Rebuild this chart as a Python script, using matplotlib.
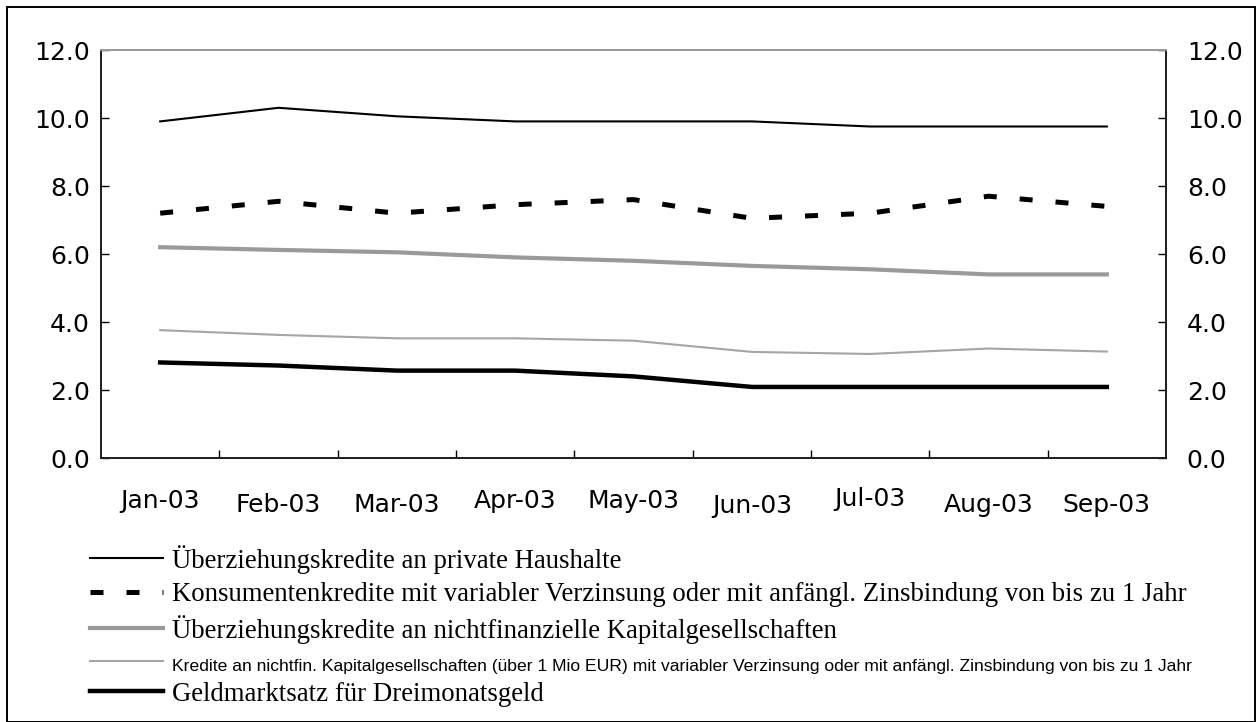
import matplotlib
matplotlib.use("Agg")
import matplotlib.pyplot as plt
import matplotlib.transforms as mtransforms
from matplotlib.patches import Rectangle
import numpy as np

# Data
months = ['Jan-03', 'Feb-03', 'Mar-03', 'Apr-03', 'May-03', 'Jun-03', 'Jul-03', 'Aug-03', 'Sep-03']
ueberziehung_hh = [9.9, 10.3, 10.05, 9.9, 9.9, 9.9, 9.75, 9.75, 9.75]
konsumentenkredite = [7.2, 7.55, 7.2, 7.45, 7.6, 7.05, 7.2, 7.7, 7.4]
ueberziehung_kg = [6.2, 6.12, 6.05, 5.9, 5.8, 5.65, 5.55, 5.4, 5.4]
kredite_kg_1mio = [3.76, 3.62, 3.52, 3.52, 3.45, 3.12, 3.06, 3.22, 3.13]
geldmarktsatz = [2.81, 2.72, 2.57, 2.57, 2.4, 2.09, 2.09, 2.09, 2.09]

labels = [
    'Überziehungskredite an private Haushalte',
    'Konsumentenkredite mit variabler Verzinsung oder mit anfängl. Zinsbindung von bis zu 1 Jahr',
    'Überziehungskredite an nichtfinanzielle Kapitalgesellschaften',
    'Kredite an nichtfin. Kapitalgesellschaften (über 1 Mio EUR) mit variabler Verzinsung oder mit anfängl. Zinsbindung von bis zu 1 Jahr',
    'Geldmarktsatz für Dreimonatsgeld',
]

W, H = 1260, 722
fig = plt.figure(figsize=(12.6, 7.22), dpi=100)
ax = fig.add_axes([101 / W, 1 - 458 / H, (1166 - 101) / W, (458 - 50) / H])

x = np.arange(len(months))
gray = '#9a9a9a'

ax.plot(x, ueberziehung_hh, color='black', lw=1.5, label=labels[0])
ax.plot(x, konsumentenkredite, color='black', lw=3.6, dashes=(2.6, 4.6),
        dash_capstyle='butt', label=labels[1])
ax.plot(x, ueberziehung_kg, color=gray, lw=3.0, label=labels[2])
ax.plot(x, kredite_kg_1mio, color='#a5a5a5', lw=1.5, label=labels[3])
ax.plot(x, geldmarktsatz, color='black', lw=3.2, label=labels[4])

ax.set_xlim(-0.5, len(months) - 0.5)
ax.set_ylim(0, 12)
yt = np.arange(0, 12.1, 2)
ax.set_yticks(yt)
ax.set_yticklabels([f'{v:.1f}' for v in yt])
ax.tick_params(axis='y', direction='in', length=6, width=1, labelsize=18, pad=8)

ax.set_xticks(x)
ax.set_xticklabels(months)
ax.set_xticks(np.arange(0.5, len(months) - 1, 1), minor=True)
ax.tick_params(axis='x', which='major', length=0, labelsize=18, pad=22)
ax.tick_params(axis='x', which='minor', direction='in', length=6, width=1)

# slight stagger of the month labels as in the original
offsets = [0, 4, 4, 0, 0, 5, -2, 4, 4]
for lab, dy in zip(ax.get_xticklabels(), offsets):
    lab.set_transform(lab.get_transform() + mtransforms.ScaledTranslation(0, -dy / 100, fig.dpi_scale_trans))

ax2 = ax.twinx()
ax2.set_ylim(0, 12)
ax2.set_yticks(yt)
ax2.set_yticklabels([f'{v:.1f}' for v in yt])
ax2.tick_params(axis='y', direction='in', length=6, width=1, labelsize=18, pad=15)

for a in (ax, ax2):
    for side in ['left', 'right', 'bottom']:
        a.spines[side].set_color('#222222')
        a.spines[side].set_linewidth(1.4)
    a.spines['top'].set_color('#999999')
    a.spines['top'].set_linewidth(1.4)

leg = ax.legend(loc='upper left', bbox_to_anchor=(90 / W, 1 - 545 / H),
                bbox_transform=fig.transFigure, frameon=False,
                prop={'family': 'Liberation Serif', 'size': 19.3},
                handlelength=2.72, handletextpad=0.34, labelspacing=0.3,
                borderpad=0, borderaxespad=0)
small = leg.get_texts()[3]
small.set_fontfamily(['Liberation Sans Narrow', 'Liberation Sans'])
small.set_fontsize(12.6)

# outer frame
fig.add_artist(Rectangle((7 / W, 0), (1255 - 7) / W, 1 - 7 / H, transform=fig.transFigure,
                         fill=False, edgecolor='black', lw=1.4, clip_on=False))

fig.savefig('out.png', dpi=100)
